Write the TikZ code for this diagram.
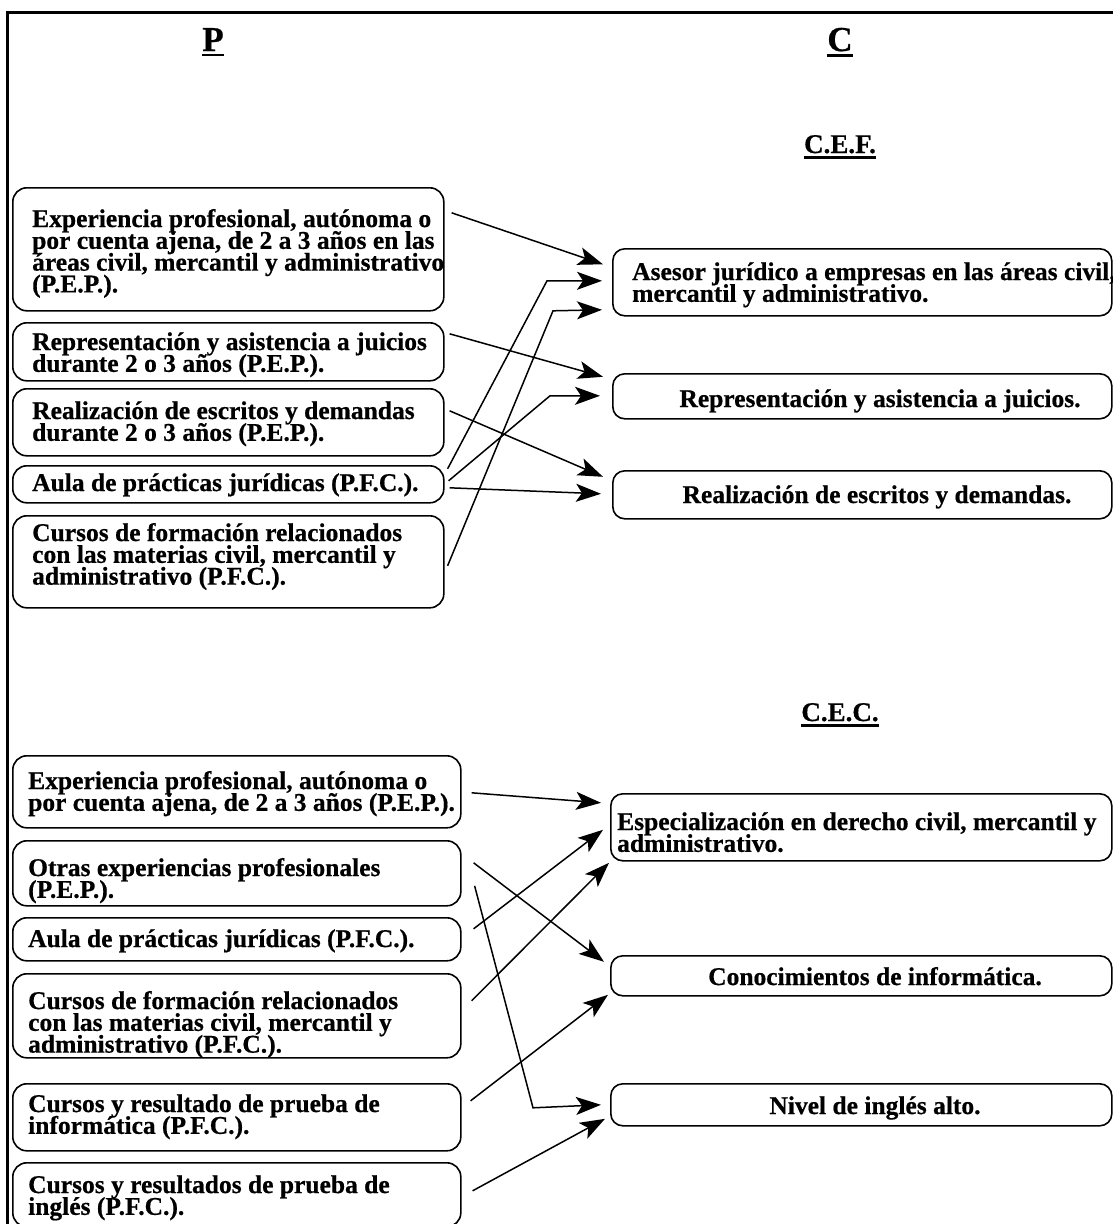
\documentclass[tikz,border=0pt]{standalone}
\usepackage{fontspec}
\setmainfont{Liberation Serif}[BoldFeatures={FakeBold=0.6}]
\usetikzlibrary{arrows.meta,calc}
\newcommand\ulb[1]{\vtop{\hbox{#1}\kern3pt\hrule height 2.2pt}}
\newcommand\txtlines[1]{\vtop{\baselineskip=21.8pt\lineskiplimit=-100pt\lineskip=0pt #1}}
\begin{document}
\begin{tikzpicture}[x=1pt,y=-1pt,
  box/.style={draw,line width=1.6pt,rounded corners=14pt,inner sep=0pt,anchor=north west},
  rbox/.style={draw,line width=1.6pt,rounded corners=12pt,inner sep=0pt,anchor=north west},
  txt/.style={inner sep=0pt,anchor=base west,font=\bfseries\fontsize{25.5}{21.8}\selectfont},
  ctxt/.style={inner sep=0pt,anchor=base,font=\bfseries\fontsize{25.5}{21.8}\selectfont},
  head/.style={inner sep=0pt,anchor=base,font=\bfseries\fontsize{35}{35}\selectfont},
  subhead/.style={inner sep=0pt,anchor=base,font=\bfseries\fontsize{27}{27}\selectfont},
  arr/.style={line width=1.5pt,-{Stealth[length=25pt,width=18pt,inset=6pt]}},
  frame/.style={line width=3pt}]
\useasboundingbox (0,0) rectangle (1113,1224);
\clip (0,0) rectangle (1113,1224);
\fill[white] (0,0) rectangle (1113,1224);
% frame
\draw[frame] (7,1240) -- (7,12) -- (1130,12);
% headers
\node[head] (hP) at (213,51) {\ulb{P}};
\node[head] (hC) at (840,51) {\ulb{C}};
\node[subhead] (hCEF) at (840,153) {\ulb{C.E.F.}};
\node[subhead] (hCEC) at (840,721) {\ulb{C.E.C.}};

% ---------- top group, left boxes
\node[box,minimum width=431pt,minimum height=123pt] (b1) at (12,187) {};
\node[box,minimum width=431pt,minimum height=58pt] (b2) at (12,322) {};
\node[box,minimum width=431pt,minimum height=67pt] (b3) at (12,388) {};
\node[box,minimum width=431pt,minimum height=37pt] (b4) at (12,465) {};
\node[box,minimum width=431pt,minimum height=92pt] (b5) at (12,515) {};
\node[txt] (t1) at (32,227) {\txtlines{\hbox{Experiencia profesional, autónoma o}\hbox{por cuenta ajena, de 2 a 3 años en las}\hbox{áreas civil, mercantil y administrativo}\hbox{(P.E.P.).}}};
\node[txt] (t2) at (32,350) {\txtlines{\hbox{Representación y asistencia a juicios}\hbox{durante 2 o 3 años (P.E.P.).}}};
\node[txt] (t3) at (32,419) {\txtlines{\hbox{Realización de escritos y demandas}\hbox{durante 2 o 3 años (P.E.P.).}}};
\node[txt] (t4) at (32,491) {Aula de prácticas jurídicas (P.F.C.).};
\node[txt] (t5) at (32,541) {\txtlines{\hbox{Cursos de formación relacionados}\hbox{con las materias civil, mercantil y}\hbox{administrativo (P.F.C.).}}};

% ---------- top group, right boxes
\node[rbox,minimum width=499pt,minimum height=67pt] (r1) at (612,248) {};
\node[rbox,minimum width=499pt,minimum height=45pt] (r2) at (612,373) {};
\node[rbox,minimum width=499pt,minimum height=48pt] (r3) at (612,470) {};
\node[txt] (rt1) at (632,280) {\txtlines{\hbox{Asesor jurídico a empresas en las áreas civil,}\hbox{mercantil y administrativo.}}};
\node[ctxt] (rt2) at (880,407) {Representación y asistencia a juicios.};
\node[ctxt] (rt3) at (877,503) {Realización de escritos y demandas.};

% ---------- bottom group, left boxes
\node[box,minimum width=448pt,minimum height=72pt] (c1) at (12,755) {};
\node[box,minimum width=448pt,minimum height=65pt] (c2) at (12,840) {};
\node[box,minimum width=448pt,minimum height=43pt] (c3) at (12,917) {};
\node[box,minimum width=448pt,minimum height=84pt] (c4) at (12,973) {};
\node[box,minimum width=448pt,minimum height=67pt] (c5) at (12,1083) {};
\node[box,minimum width=448pt,minimum height=64pt] (c6) at (12,1162) {};
\node[txt] (ct1) at (28,789) {\txtlines{\hbox{Experiencia profesional, autónoma o}\hbox{por cuenta ajena, de 2 a 3 años (P.E.P.).}}};
\node[txt] (ct2) at (28,876) {\txtlines{\hbox{Otras experiencias profesionales}\hbox{(P.E.P.).}}};
\node[txt] (ct3) at (28,947) {Aula de prácticas jurídicas (P.F.C.).};
\node[txt] (ct4) at (28,1009) {\txtlines{\hbox{Cursos de formación relacionados}\hbox{con las materias civil, mercantil y}\hbox{administrativo (P.F.C.).}}};
\node[txt] (ct5) at (28,1112) {\txtlines{\hbox{Cursos y resultado de prueba de}\hbox{informática (P.F.C.).}}};
\node[txt] (ct6) at (28,1193) {\txtlines{\hbox{Cursos y resultados de prueba de}\hbox{inglés (P.F.C.).}}};

% ---------- bottom group, right boxes
\node[rbox,minimum width=501pt,minimum height=67pt] (s1) at (610,793) {};
\node[rbox,minimum width=501pt,minimum height=40pt] (s2) at (610,955) {};
\node[rbox,minimum width=501pt,minimum height=42pt] (s3) at (610,1083) {};
\node[txt] (st1) at (617,830) {\txtlines{\hbox{Especialización en derecho civil, mercantil y}\hbox{administrativo.}}};
\node[ctxt] (st2) at (875,985) {Conocimientos de informática.};
\node[ctxt] (st3) at (875,1114) {Nivel de inglés alto.};

% ---------- connectors, top group
\coordinate (a2e) at ($(r1.west)+(-10,-1.5)$);
\coordinate (a3e) at ($(r1.west)+(-10,27.5)$);
\coordinate (a5e) at ($(r2.west)+(-12,-0.5)$);
\draw[arr] ($(b1.east)+(7,-36.5)$) -- ($(r1.west)+(-9,-18)$);
\draw[arr] ($(b4.east)+(3,-15.5)$) -- ($(a2e)+(-55,0)$) -- (a2e);
\draw[arr] ($(b5.east)+(3,4)$) -- ($(a3e)+(-49,1)$) -- (a3e);
\draw[arr] ($(b2.east)+(5,-18)$) -- ($(r2.west)+(-9,-19.5)$);
\draw[arr] ($(b4.east)+(4,-3.5)$) -- ($(a5e)+(-50,0)$) -- (a5e);
\draw[arr] ($(b3.east)+(5,-11.5)$) -- ($(r3.west)+(-9,-18)$);
\draw[arr] ($(b4.east)+(5,3.5)$) -- ($(r3.west)+(-11,-1)$);

% ---------- connectors, bottom group
\coordinate (c6e) at ($(s3.west)+(-9,0)$);
\draw[arr] ($(c1.east)+(10,1)$) -- ($(s1.west)+(-9,-24.5)$);
\draw[arr] ($(c3.east)+(12,-10.5)$) -- ($(s1.west)+(-7,2.5)$);
\draw[arr] ($(c4.east)+(10,-15)$) -- ($(s1.west)+(-1,35.5)$);
\draw[arr] ($(c2.east)+(12,-10.5)$) -- ($(s2.west)+(-6,-14)$);
\draw[arr] ($(c5.east)+(9,-16.5)$) -- ($(s2.west)+(-2,19)$);
\draw[arr] ($(c2.east)+(13,12.5)$) -- ($(c6e)+(-68,3)$) -- (c6e);
\draw[arr] ($(c6.east)+(11,-4)$) -- ($(s3.west)+(-5,14)$);
\end{tikzpicture}
\end{document}
